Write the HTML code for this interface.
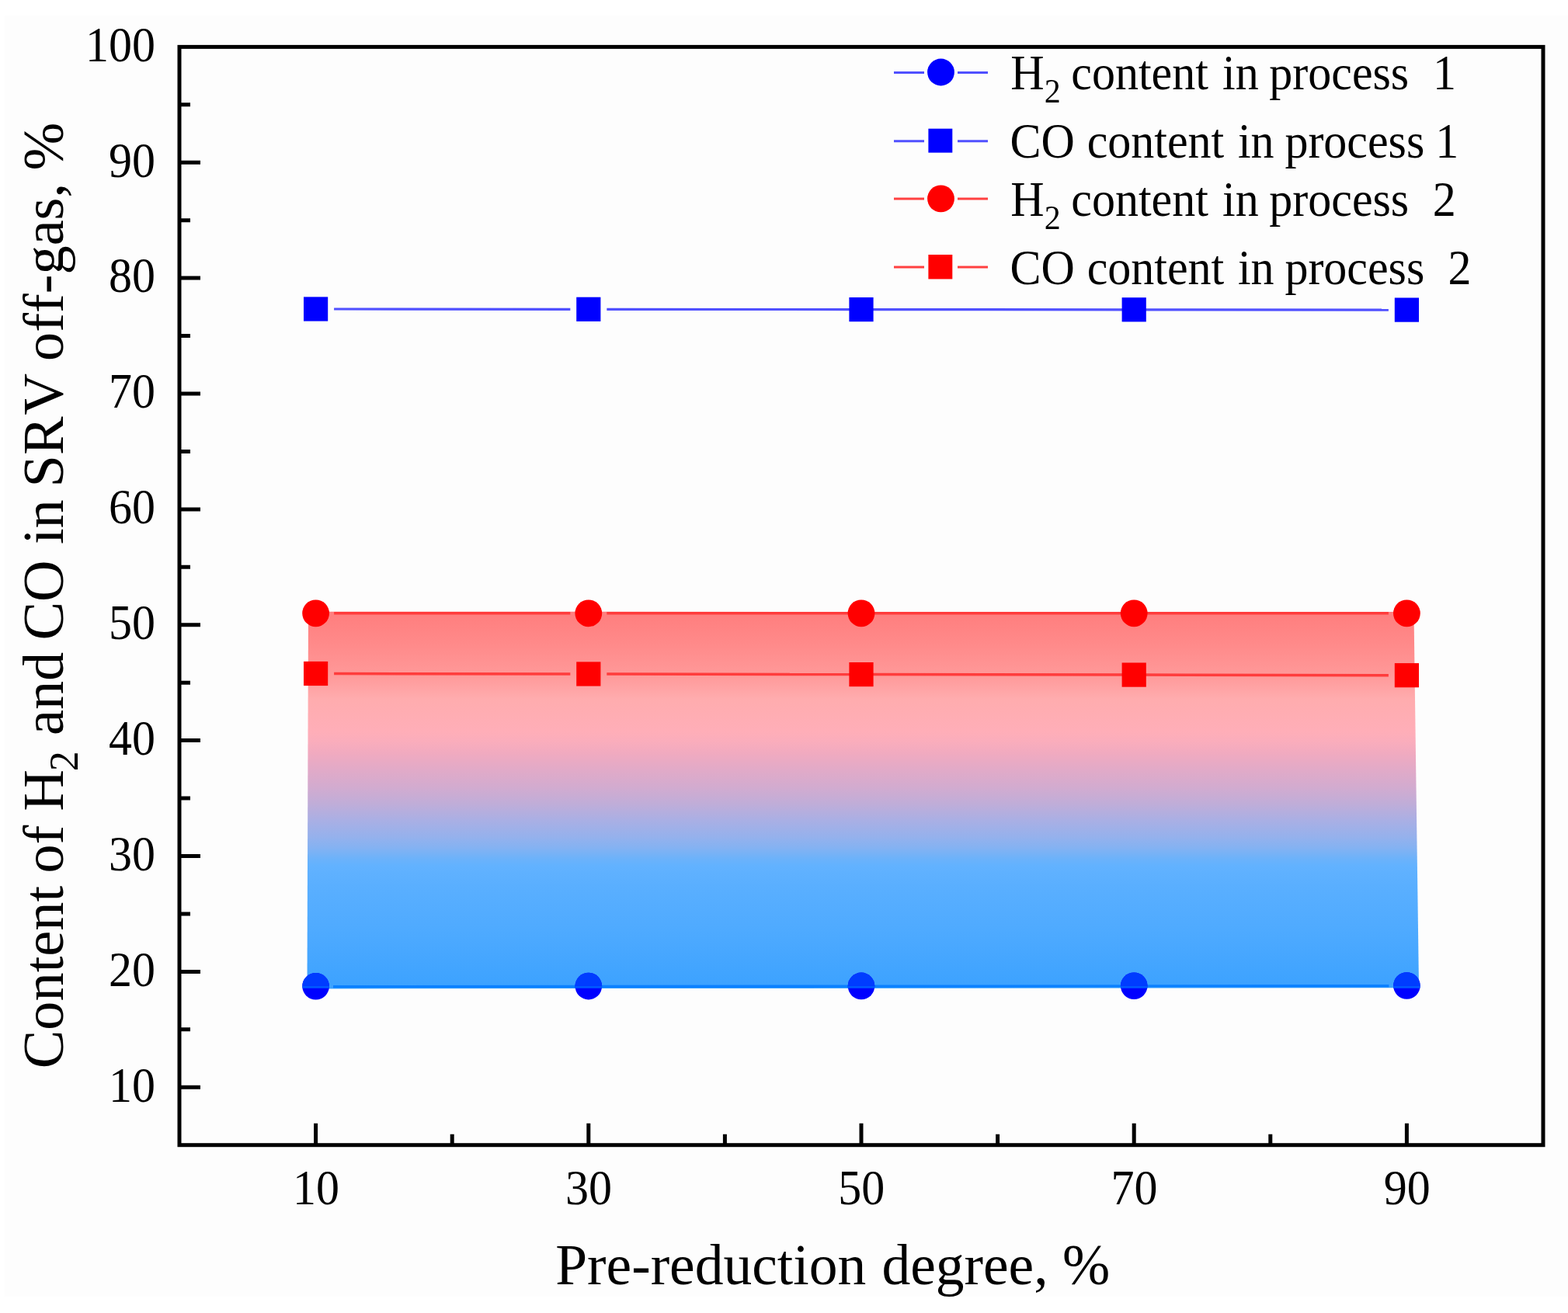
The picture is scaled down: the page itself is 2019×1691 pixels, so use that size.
<!DOCTYPE html><html><head><meta charset="utf-8"><title>Chart</title><style>html,body{margin:0;padding:0;background:#fff;width:2019px;height:1691px;overflow:hidden}svg{display:block}text{font-family:"Liberation Serif","Times New Roman",serif;fill:#000;font-kerning:none}</style></head><body><svg width="2019" height="1691" viewBox="0 0 2019 1691"><defs><linearGradient id="g" x1="0" y1="789" x2="0" y2="1272" gradientUnits="userSpaceOnUse"><stop offset="0.0" stop-color="#ff7e7e"/><stop offset="0.08488612836438923" stop-color="#ff8a8a"/><stop offset="0.16356107660455488" stop-color="#ff9898"/><stop offset="0.22981366459627328" stop-color="#ffacae"/><stop offset="0.3167701863354037" stop-color="#ffaeb8"/><stop offset="0.34368530020703936" stop-color="#faadbc"/><stop offset="0.37681159420289856" stop-color="#f0aac0"/><stop offset="0.42028985507246375" stop-color="#e1aac8"/><stop offset="0.463768115942029" stop-color="#d3abcf"/><stop offset="0.5093167701863354" stop-color="#c0add8"/><stop offset="0.5527950310559007" stop-color="#aaafe4"/><stop offset="0.5962732919254659" stop-color="#96b1ec"/><stop offset="0.6273291925465838" stop-color="#84b2f2"/><stop offset="0.6563146997929606" stop-color="#6cb2fa"/><stop offset="0.6749482401656315" stop-color="#62b2ff"/><stop offset="0.7267080745341615" stop-color="#5aafff"/><stop offset="0.8509316770186336" stop-color="#4eaaff"/><stop offset="1.0" stop-color="#3ca2ff"/></linearGradient></defs><rect x="6" y="20" width="2013" height="1650" fill="#fdfdfd"/><polygon points="397,787.8 1820.5,788 1827,1272.2 395.5,1273.4" fill="url(#g)"/><clipPath id="cu"><rect x="0" y="0" width="2019" height="1269.4"/></clipPath><clipPath id="cm"><rect x="0" y="1269.4" width="2019" height="3.4"/></clipPath><line x1="429" y1="1270.7" x2="1788.4" y2="1269.7" stroke="#0a80ff" stroke-width="3.4"/><circle cx="406.6" cy="1270.2" r="17.3" fill="#0000ff"/><circle cx="406.6" cy="1270.2" r="17.3" fill="#003cff" clip-path="url(#cu)"/><circle cx="406.6" cy="1270.2" r="17.3" fill="#0058ff" clip-path="url(#cm)"/><circle cx="757.8" cy="1270.1" r="17.3" fill="#0000ff"/><circle cx="757.8" cy="1270.1" r="17.3" fill="#003cff" clip-path="url(#cu)"/><circle cx="757.8" cy="1270.1" r="17.3" fill="#0058ff" clip-path="url(#cm)"/><circle cx="1109.0" cy="1269.9" r="17.3" fill="#0000ff"/><circle cx="1109.0" cy="1269.9" r="17.3" fill="#003cff" clip-path="url(#cu)"/><circle cx="1109.0" cy="1269.9" r="17.3" fill="#0058ff" clip-path="url(#cm)"/><circle cx="1460.2" cy="1269.7" r="17.3" fill="#0000ff"/><circle cx="1460.2" cy="1269.7" r="17.3" fill="#003cff" clip-path="url(#cu)"/><circle cx="1460.2" cy="1269.7" r="17.3" fill="#0058ff" clip-path="url(#cm)"/><circle cx="1811.4" cy="1269.5" r="17.3" fill="#0000ff"/><circle cx="1811.4" cy="1269.5" r="17.3" fill="#003cff" clip-path="url(#cu)"/><circle cx="1811.4" cy="1269.5" r="17.3" fill="#0058ff" clip-path="url(#cm)"/><line x1="430.1" y1="789.8" x2="734.3" y2="789.8" stroke="#ff3c3c" stroke-width="3.5"/><line x1="781.3" y1="789.8" x2="1109.0" y2="789.8" stroke="#ff3c3c" stroke-width="3.5"/><line x1="1109.0" y1="789.8" x2="1460.2" y2="789.8" stroke="#ff3c3c" stroke-width="3.5"/><line x1="1460.2" y1="789.8" x2="1787.9" y2="789.8" stroke="#ff3c3c" stroke-width="3.5"/><circle cx="406.6" cy="789.8" r="17.4" fill="#ff0000"/><circle cx="757.8" cy="789.8" r="17.4" fill="#ff0000"/><circle cx="1109.0" cy="789.8" r="17.4" fill="#ff0000"/><circle cx="1460.2" cy="789.8" r="17.4" fill="#ff0000"/><circle cx="1811.4" cy="789.8" r="17.4" fill="#ff0000"/><line x1="430.1" y1="867.5" x2="734.3" y2="868.0" stroke="#ff3c3c" stroke-width="3.5"/><line x1="781.3" y1="868.0" x2="1109.0" y2="868.6" stroke="#ff3c3c" stroke-width="3.5"/><line x1="1109.0" y1="868.6" x2="1460.2" y2="869.1" stroke="#ff3c3c" stroke-width="3.5"/><line x1="1460.2" y1="869.1" x2="1787.9" y2="869.7" stroke="#ff3c3c" stroke-width="3.5"/><rect x="391.0" y="851.9" width="31.2" height="31.2" fill="#ff0000"/><rect x="742.2" y="852.4" width="31.2" height="31.2" fill="#ff0000"/><rect x="1093.4" y="853.0" width="31.2" height="31.2" fill="#ff0000"/><rect x="1444.6" y="853.5" width="31.2" height="31.2" fill="#ff0000"/><rect x="1795.8" y="854.1" width="31.2" height="31.2" fill="#ff0000"/><line x1="430.1" y1="398.0" x2="734.3" y2="398.3" stroke="#5050ff" stroke-width="3.2"/><line x1="781.3" y1="398.3" x2="1109.0" y2="398.6" stroke="#5050ff" stroke-width="3.2"/><line x1="1109.0" y1="398.6" x2="1460.2" y2="398.8" stroke="#5050ff" stroke-width="3.2"/><line x1="1460.2" y1="398.8" x2="1787.9" y2="399.1" stroke="#5050ff" stroke-width="3.2"/><rect x="391.0" y="382.4" width="31.2" height="31.2" fill="#0000ff"/><rect x="742.2" y="382.7" width="31.2" height="31.2" fill="#0000ff"/><rect x="1093.4" y="383.0" width="31.2" height="31.2" fill="#0000ff"/><rect x="1444.6" y="383.2" width="31.2" height="31.2" fill="#0000ff"/><rect x="1795.8" y="383.5" width="31.2" height="31.2" fill="#0000ff"/><rect x="231.0" y="60.4" width="1756.0" height="1414.3" fill="none" stroke="#000" stroke-width="5"/><path d="M406.6,1474.7v-28M582.2,1474.7v-14M757.8,1474.7v-28M933.4,1474.7v-14M1109.0,1474.7v-28M1284.6,1474.7v-14M1460.2,1474.7v-28M1635.8,1474.7v-14M1811.4,1474.7v-28M231.0,1400.3h27M231.0,1325.8h14M231.0,1251.4h27M231.0,1177.0h14M231.0,1102.5h27M231.0,1028.1h14M231.0,953.6h27M231.0,879.2h14M231.0,804.8h27M231.0,730.3h14M231.0,655.9h27M231.0,581.5h14M231.0,507.0h27M231.0,432.6h14M231.0,358.1h27M231.0,283.7h14M231.0,209.3h27M231.0,134.8h14" stroke="#000" stroke-width="5" fill="none"/><text transform="translate(200,1418.5) scale(1,1.055)" font-size="60" text-anchor="end">10</text><text transform="translate(200,1269.6) scale(1,1.055)" font-size="60" text-anchor="end">20</text><text transform="translate(200,1120.7) scale(1,1.055)" font-size="60" text-anchor="end">30</text><text transform="translate(200,971.8) scale(1,1.055)" font-size="60" text-anchor="end">40</text><text transform="translate(200,823.0) scale(1,1.055)" font-size="60" text-anchor="end">50</text><text transform="translate(200,674.1) scale(1,1.055)" font-size="60" text-anchor="end">60</text><text transform="translate(200,525.2) scale(1,1.055)" font-size="60" text-anchor="end">70</text><text transform="translate(200,376.3) scale(1,1.055)" font-size="60" text-anchor="end">80</text><text transform="translate(200,227.5) scale(1,1.055)" font-size="60" text-anchor="end">90</text><text transform="translate(200,78.6) scale(1,1.055)" font-size="60" text-anchor="end">100</text><text transform="translate(406.9,1550.8) scale(1,1.055)" font-size="60" text-anchor="middle">10</text><text transform="translate(758.1,1550.8) scale(1,1.055)" font-size="60" text-anchor="middle">30</text><text transform="translate(1109.3,1550.8) scale(1,1.055)" font-size="60" text-anchor="middle">50</text><text transform="translate(1460.5,1550.8) scale(1,1.055)" font-size="60" text-anchor="middle">70</text><text transform="translate(1811.7,1550.8) scale(1,1.055)" font-size="60" text-anchor="middle">90</text><text y="1653.8" font-size="73.5" xml:space="preserve"><tspan x="715.2">Pre-reduction </tspan><tspan x="1135.4">degree, </tspan><tspan x="1368.0">%</tspan></text><text transform="translate(81,0) rotate(-90)" font-size="74.3" xml:space="preserve"><tspan x="-1376.2" y="0">Content </tspan><tspan x="-1124.6" y="0">of </tspan><tspan x="-1044.8" y="0">H</tspan><tspan x="-993.2" y="19" font-size="52">2 </tspan><tspan x="-947.0" y="0">and </tspan><tspan x="-824.5" y="0">CO </tspan><tspan x="-701.1" y="0">in </tspan><tspan x="-627.5" y="0">S</tspan><tspan x="-586.1" y="0">R</tspan><tspan x="-534.6" y="0">V </tspan><tspan x="-464.9" y="0">off-gas, </tspan><tspan x="-219.5" y="0">%</tspan></text><line x1="1151" y1="93.5" x2="1190" y2="93.5" stroke="#5050ff" stroke-width="3"/><line x1="1233" y1="93.5" x2="1272" y2="93.5" stroke="#5050ff" stroke-width="3"/><circle cx="1211.5" cy="93" r="17.4" fill="#0000ff"/><line x1="1151" y1="181.7" x2="1190" y2="181.7" stroke="#5050ff" stroke-width="3"/><line x1="1233" y1="181.7" x2="1272" y2="181.7" stroke="#5050ff" stroke-width="3"/><rect x="1195.4" y="165.7" width="30.9" height="30.9" fill="#0000ff"/><line x1="1151" y1="256" x2="1190" y2="256" stroke="#ff4040" stroke-width="3"/><line x1="1233" y1="256" x2="1272" y2="256" stroke="#ff4040" stroke-width="3"/><circle cx="1211.5" cy="255.9" r="17.4" fill="#ff0000"/><line x1="1151" y1="344.1" x2="1190" y2="344.1" stroke="#ff4040" stroke-width="3"/><line x1="1233" y1="344.1" x2="1272" y2="344.1" stroke="#ff4040" stroke-width="3"/><rect x="1195.4" y="328" width="30.9" height="31.4" fill="#ff0000"/><text transform="translate(0,115.0) scale(1,1.04)" font-size="60" xml:space="preserve"><tspan x="1301.3">H</tspan><tspan font-size="42" dy="16.5">2</tspan><tspan dy="-16.5"> </tspan><tspan x="1379.3" dy="0">content </tspan><tspan x="1574.1" dy="0">in </tspan><tspan x="1634.3" dy="0">process  </tspan><tspan x="1845.0" dy="0">1</tspan></text><text transform="translate(0,203.0) scale(1,1.04)" font-size="60" xml:space="preserve"><tspan x="1300.5">CO </tspan><tspan x="1399.7" dy="0">content </tspan><tspan x="1593.9" dy="0">in </tspan><tspan x="1654.4" dy="0">process </tspan><tspan x="1848.3" dy="0">1</tspan></text><text transform="translate(0,278.0) scale(1,1.04)" font-size="60" xml:space="preserve"><tspan x="1301.3">H</tspan><tspan font-size="42" dy="16.5">2</tspan><tspan dy="-16.5"> </tspan><tspan x="1379.3" dy="0">content </tspan><tspan x="1574.1" dy="0">in </tspan><tspan x="1634.3" dy="0">process  </tspan><tspan x="1844.8" dy="0">2</tspan></text><text transform="translate(0,366.2) scale(1,1.04)" font-size="60" xml:space="preserve"><tspan x="1300.5">CO </tspan><tspan x="1399.7" dy="0">content </tspan><tspan x="1593.9" dy="0">in </tspan><tspan x="1654.4" dy="0">process  </tspan><tspan x="1864.4" dy="0">2</tspan></text></svg></body></html>
